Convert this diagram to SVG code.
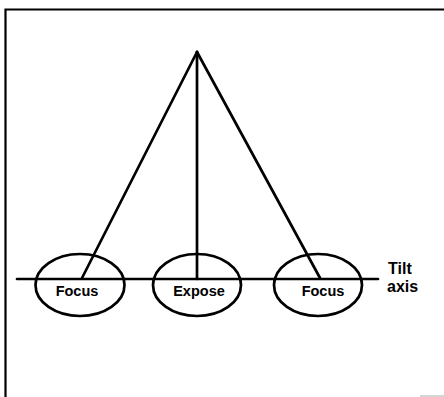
<svg xmlns="http://www.w3.org/2000/svg" width="444" height="397" viewBox="0 0 444 397">
<style>
.ln{stroke:#000;stroke-width:2.7;fill:none;stroke-linecap:round}
.el{stroke:#000;stroke-width:2.7;fill:none}
.t{font-family:"Liberation Sans",Arial,sans-serif;font-weight:bold;font-size:14.5px;fill:#000;text-anchor:middle}
.lbl{font-family:"Liberation Sans",Arial,sans-serif;font-weight:bold;font-size:16px;fill:#000}
</style>
<rect width="444" height="397" fill="#fff"/>
<path d="M5.5,397 V9.5 H444" fill="none" stroke="#000" stroke-width="2.2"/>
<line x1="420" y1="396" x2="444" y2="396" stroke="#aaa" stroke-width="1"/>
<g id="connectors">
<line class="ln" x1="197" y1="52" x2="82" y2="278"/>
<line class="ln" x1="197" y1="52" x2="197" y2="279"/>
<line class="ln" x1="197" y1="52" x2="320" y2="278"/>
<line class="ln" x1="17" y1="279" x2="378" y2="279"/>
</g>
<g id="focus-left">
<ellipse class="el" cx="80" cy="285" rx="44.5" ry="31"/>
<text class="t" x="77" y="296">Focus</text>
</g>
<g id="expose">
<ellipse class="el" cx="197" cy="285" rx="44" ry="31"/>
<text class="t" x="199" y="296">Expose</text>
</g>
<g id="focus-right">
<ellipse class="el" cx="318" cy="285" rx="44" ry="31"/>
<text class="t" x="323" y="296">Focus</text>
</g>
<g id="tilt-axis">
<text class="lbl" x="388" y="274">Tilt</text>
<text class="lbl" x="387" y="292">axis</text>
</g>
</svg>
